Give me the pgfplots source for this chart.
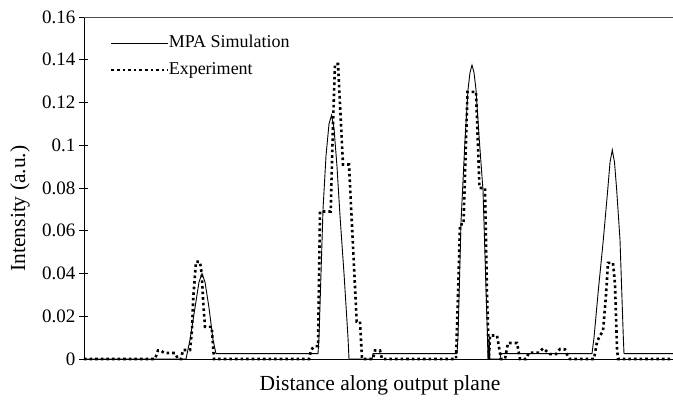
\documentclass[border=0pt]{standalone}
\usepackage{fontspec}
\setmainfont{Liberation Serif}
\usepackage{pgfplots}
\pgfplotsset{compat=1.18}
\begin{document}
\fontsize{18bp}{22bp}\selectfont
\begin{tikzpicture}
\path[use as bounding box] (-84bp,-41bp) rectangle (589bp,359bp);
\begin{axis}[
  at={(0,0)}, anchor=south west,
  scale only axis, width=589bp, height=342bp,
  xmin=84, xmax=673, ymin=0, ymax=0.16,
  axis y line*=left, axis x line*=bottom,
  axis line style={line width=0.6bp},
  xtick=\empty,
  ytick={0,0.02,0.04,0.06,0.08,0.1,0.12,0.14,0.16},
  yticklabels={0,0.02,0.04,0.06,0.08,0.1,0.12,0.14,0.16},
  /pgf/number format/assume math mode=true,
  tick align=center, major tick length=9bp,
  tick style={line width=0.6bp, black},
  yticklabel style={inner sep=0pt, xshift=-4bp, font=\fontsize{19bp}{22bp}\selectfont},
  every axis y label/.style={at={(axis description cs:-0.1087,0.44)}, rotate=90, anchor=center, font=\fontsize{21.5bp}{26bp}\selectfont},
  every axis x label/.style={at={(axis description cs:0.5025,-0.078)}, anchor=center, font=\fontsize{21.5bp}{26bp}\selectfont},
  ylabel={Intensity (a.u.)},
  xlabel={Distance along output plane},
  legend cell align=left,
  legend style={draw=none, fill=none, at={(axis description cs:0.039,0.958)}, anchor=north west,
    nodes={inner sep=1bp, text height=13bp, text depth=4bp}, row sep=8bp, column sep=-2bp},
  legend image code/.code={\draw[#1] (0bp,0bp) -- (57bp,0bp);},
  clip=false,
]
\addplot[black, line width=0.9bp] coordinates {
(84,0) (186,0) (190,0.009) (195,0.024) (199,0.036) (202,0.040) (205,0.036) (209,0.024) (213,0.009) (216,0.0025)
(318,0.0025) (319,0.01) (323,0.07) (326,0.095) (329,0.11) (331.5,0.114) (334,0.108) (337,0.09) (340,0.067) (344,0.04) (348,0.010) (349,0)
(372,0) (373,0.0025) (457,0.0025) (458,0.01) (461,0.064) (465,0.1025) (468,0.126) (470,0.134) (472,0.1375) (474,0.134) (476,0.126) (479.3,0.1025) (483,0.079) (487.5,0.01) (488,0)
(500,0) (501,0.0025) (592,0.0025) (594,0.01) (598.5,0.033) (603.3,0.0557) (607.7,0.079) (610,0.092) (612.3,0.0978) (614.5,0.092) (616.7,0.079) (620,0.0557) (623.3,0.0103) (624,0.0025) (673,0.0025)
};
\addlegendentry{MPA Simulation}
\addplot[black, line width=2.6bp, dash pattern=on 2.6bp off 3bp] coordinates {
(84,0) (155,0) (158,0.004) (161,0.004) (164,0.0028) (175,0.0028) (178,0) (181,0) (183,0.0042) (190,0.0042) (192,0.0136) (193.3,0.029) (196,0.0455) (200,0.0455) (201.7,0.04) (203.3,0.026) (205,0.015) (211.7,0.015) (214,0)
(309,0) (311,0.004) (314,0.006) (318,0.006) (320,0.069) (330.7,0.069) (333,0.11) (335,0.138) (338,0.138) (343,0.091) (349,0.091) (356.7,0.0175) (360,0.0175) (362,0)
(373,0) (375,0.004) (380,0.004) (382,0)
(456,0) (458,0.03) (460,0.063) (463.5,0.063) (467.5,0.125) (476,0.125) (479.5,0.08) (485,0.08) (487,0.03) (489,0) (490,0.011) (497,0.011) (501,0)
(505,0) (508,0.0075) (517,0.0075) (520,0) (526,0) (529,0.003) (539,0.003) (543,0.005) (550,0.0023) (556,0.0023) (560,0.0047) (565,0.0045) (568,0.001) (570,0)
(594,0) (597,0.008) (600,0.011) (603,0.013) (606,0.03) (608,0.045) (613,0.045) (615,0.035) (617,0.005) (618,0) (673,0)
};
\addlegendentry{Experiment}
\draw[line width=0.8bp, black!70] (rel axis cs:0,1) -- (rel axis cs:1,1);
\end{axis}
\end{tikzpicture}
\end{document}
